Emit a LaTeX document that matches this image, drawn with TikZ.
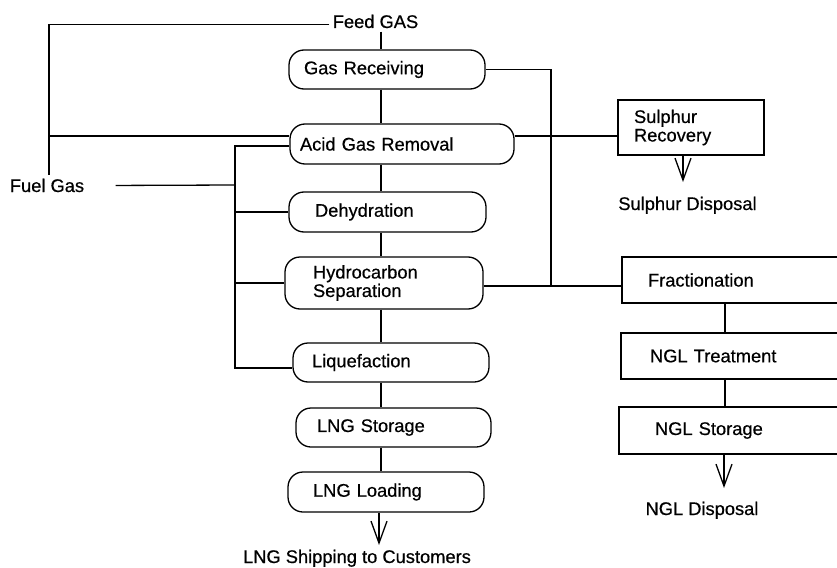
\documentclass[tikz,border=0pt]{standalone}
\usepackage{fontspec}
\setmainfont{Liberation Sans}[FakeBold = 0.5]
\usetikzlibrary{arrows.meta}

\begin{document}
\begin{tikzpicture}[x = 1pt, y = -1pt, font = \fontsize{18.3}{18.5}\selectfont]
	\tikzstyle{proc} = [draw = black, rounded corners = 15pt, align = left, inner ysep = 2pt, line width = 1.3pt]
	\tikzstyle{unit} = [draw = black, align = left, inner ysep = 2pt, line width = 1.3pt]
	\tikzstyle{line} = [line width = 1.3pt, >={Straight Barb[length = 22pt, width = 16pt]}]
	\tikzstyle{lbl} = [anchor = base]
\useasboundingbox (0,0) rectangle (837,567);
% process train
\node(gr)[proc, minimum height = 39pt, inner xsep = 15pt, text width = 166pt] at (387,69.5) {Gas Receiving};
\node(agr)[proc, minimum height = 40pt, inner xsep = 10pt, text width = 204pt] at (402,144) {Acid Gas Removal};
\node(dh)[proc, minimum height = 40pt, inner xsep = 26pt, text width = 145pt] at (387.5,212) {Dehydration};
\node(hs)[proc, minimum height = 52pt, inner xsep = 28pt, text width = 142pt] at (384,283) {Hydrocarbon\\Separation};
\node(lq)[proc, minimum height = 39pt, inner xsep = 19pt, text width = 158pt] at (391,362.5) {Liquefaction};
\node(ls)[proc, minimum height = 39pt, inner xsep = 21pt, text width = 153pt] at (393.5,427.5) {LNG Storage};
\node(ll)[proc, minimum height = 40pt, inner xsep = 25pt, text width = 146pt] at (386,492) {LNG Loading};
% side units
\node(sr)[unit, minimum height = 55pt, inner xsep = 16pt, text width = 114pt] at (691,127.5) {Sulphur\\Recovery};
\node(fr)[unit, minimum height = 46pt, inner xsep = 26pt, text width = 176pt] at (736,280) {Fractionation};
\node(nt)[unit, minimum height = 46pt, inner xsep = 29pt, text width = 171pt] at (735.5,356) {NGL Treatment};
\node(ns)[unit, minimum height = 47pt, inner xsep = 36pt, text width = 159pt] at (734.5,430.5) {NGL Storage};
% streams
\node(fg)[lbl] at (375.5,28) {Feed GAS};
\node(fuel)[lbl] at (47,192) {Fuel Gas};
\node(sd)[lbl] at (687.5,210) {Sulphur Disposal};
\node(nd)[lbl] at (702,515) {NGL Disposal};
\node(ship)[lbl] at (357,563) {LNG Shipping to Customers};
\coordinate(colx) at (381,0);
\coordinate(ngx) at (725,0);
\coordinate(jl) at (49,136);
\coordinate(fj) at (235,185);
\coordinate(fb) at (235,146);
\coordinate(fe) at (235,368);
\coordinate(rj) at (551,286);
\coordinate(sdtip) at (683,182);
\coordinate(ndtip) at (724,488);
\coordinate(shiptip) at (379,545);
\draw[line] ([yshift = -2.7pt]fg.west) -| ([xshift = 2pt]fuel.north);
\draw[line] (jl) -- (jl -| agr.west);
\draw[line] ([xshift = 28pt]fuel.east) -- (fj);
\draw[line] (agr.west |- fb) -- (fb) -- (fe) -- (fe -| lq.west);
\draw[line] (fb |- dh.west) -- (dh.west);
\draw[line] (fb |- hs.west) -- (hs.west);
\draw[line] (gr.east) -| (rj);
\draw[line] (hs.east |- rj) -- (rj -| fr.west);
\draw[line] (agr.east |- jl) -- (sr.west |- jl);
\draw[line] (fg.south -| colx) -- (gr.north -| colx);
\draw[line] (gr.south -| colx) -- (agr.north -| colx);
\draw[line] (agr.south -| colx) -- (dh.north -| colx);
\draw[line] (dh.south -| colx) -- (hs.north -| colx);
\draw[line] (hs.south -| colx) -- (lq.north -| colx);
\draw[line] (lq.south -| colx) -- (ls.north -| colx);
\draw[line] (ls.south -| colx) -- (ll.north -| colx);
\draw[line] (fr.south -| ngx) -- (nt.north -| ngx);
\draw[line] (nt.south -| ngx) -- (ns.north -| ngx);
\draw[line,->] (sr.south -| sdtip) -- (sdtip);
\draw[line,->] (ns.south -| ndtip) -- (ndtip);
\draw[line,->] (ll.south -| shiptip) -- (shiptip);
  \end{tikzpicture}
\end{document}
